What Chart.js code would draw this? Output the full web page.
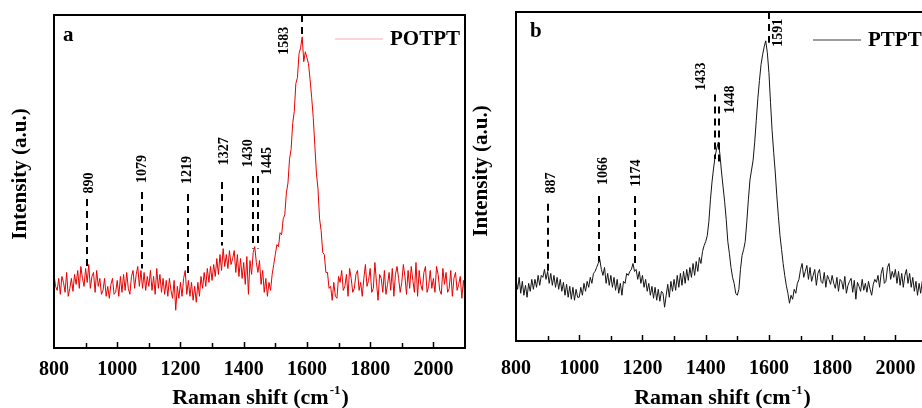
<!DOCTYPE html>
<html>
<head>
<meta charset="utf-8">
<script src="https://cdn.jsdelivr.net/npm/chart.js@4.4.0/dist/chart.umd.min.js"></script>
<style>
html, body { margin: 0; padding: 0; background: #fff; overflow: hidden; }
#wrap { position: relative; width: 922px; height: 408px; overflow: hidden; }
#chartA { position: absolute; left: 0; top: 0; }
#chartB { position: absolute; left: 462px; top: 0; }
</style>
</head>
<body>
<div id="wrap">
  <canvas id="chartA" width="470" height="408"></canvas>
  <canvas id="chartB" width="470" height="408"></canvas>
</div>
<script>
// Raman shift grid, cm-1 (800 .. 2100, every 5)
var shiftStart = 800, shiftStep = 5;

// a: POTPT spectrum (a.u.)
var potptIntensity = [
  74, 62, 58, 70, 54, 72, 66, 56, 76, 52, 60, 70, 57, 74, 64, 78, 60, 82, 70, 62,
  80, 66, 84, 60, 72, 76, 56, 78, 62, 70, 54, 58, 70, 52, 62, 50, 64, 70, 54, 56,
  68, 52, 72, 56, 74, 58, 76, 60, 54, 72, 78, 60, 74, 82, 62, 78, 60, 76, 58, 72,
  62, 78, 58, 72, 54, 80, 60, 74, 56, 70, 54, 68, 52, 70, 58, 50, 68, 38, 62, 50,
  66, 52, 70, 78, 54, 68, 52, 66, 48, 62, 46, 66, 52, 72, 60, 76, 62, 80, 66, 82,
  68, 84, 72, 90, 74, 94, 78, 100, 82, 94, 80, 98, 84, 90, 98, 76, 94, 72, 90, 70,
  86, 64, 92, 54, 88, 74, 96, 102, 86, 76, 88, 64, 78, 56, 70, 52, 66, 58, 74, 84,
  94, 104, 102, 116, 114, 130, 134, 156, 166, 190, 200, 226, 238, 266, 272, 296, 302, 313, 288, 298,
  292, 286, 270, 252, 232, 204, 176, 160, 130, 118, 96, 94, 76, 76, 60, 62, 48, 66, 52, 50,
  72, 66, 78, 58, 62, 74, 52, 80, 70, 56, 60, 74, 78, 58, 66, 52, 70, 84, 62, 68,
  80, 56, 60, 86, 66, 48, 74, 70, 56, 78, 54, 64, 76, 58, 80, 52, 74, 82, 70, 56,
  66, 84, 72, 54, 78, 60, 82, 68, 56, 86, 52, 78, 64, 58, 76, 82, 56, 62, 78, 60,
  70, 56, 82, 74, 58, 54, 80, 64, 76, 56, 60, 78, 52, 70, 76, 58, 64, 72, 50, 68,
  52
];

// b: PTPT spectrum (a.u.)
var ptptIntensity = [
  62, 52, 64, 48, 60, 46, 56, 44, 58, 50, 62, 52, 62, 54, 66, 56, 66, 64, 72, 62,
  70, 58, 68, 56, 66, 54, 64, 52, 62, 50, 59, 46, 57, 44, 55, 42, 54, 41, 52, 44,
  44, 54, 46, 58, 50, 60, 54, 64, 58, 68, 70, 74, 78, 82, 72, 66, 74, 58, 68, 56,
  66, 54, 64, 51, 62, 48, 58, 46, 60, 58, 68, 66, 70, 72, 78, 70, 72, 62, 70, 58,
  66, 54, 62, 50, 58, 46, 55, 43, 54, 41, 52, 40, 50, 48, 34, 46, 57, 44, 60, 50,
  62, 51, 66, 54, 68, 56, 70, 58, 72, 61, 74, 64, 78, 66, 80, 70, 84, 78, 90, 96,
  100, 106, 120, 142, 160, 174, 186, 194, 200, 188, 170, 155, 140, 122, 100, 88, 74, 64, 58, 48,
  46, 52, 72, 86, 92, 100, 120, 142, 162, 172, 182, 200, 222, 244, 262, 278, 288, 296, 302, 290,
  270, 240, 212, 190, 170, 146, 125, 106, 92, 78, 66, 56, 48, 38, 46, 42, 52, 48, 58, 62,
  72, 78, 64, 70, 76, 62, 74, 60, 66, 72, 56, 68, 72, 60, 58, 69, 54, 66, 62, 57,
  66, 58, 53, 64, 50, 62, 60, 52, 65, 48, 56, 60, 63, 49, 61, 42, 59, 55, 50, 62,
  51, 58, 49, 60, 52, 46, 57, 62, 59, 66, 54, 68, 74, 58, 60, 74, 78, 62, 70, 64,
  72, 58, 70, 56, 68, 54, 66, 72, 58, 68, 54, 64, 50, 60, 46, 58, 48, 60, 50, 62,
  52
];

// peak marks: where the dashed line stands, its label, line ends and label centre (a.u.)
var potptPeakAt = [904, 1078, 1223, 1330, 1428, 1444, 1583];
var potptPeakText = ['890', '1079', '1219', '1327', '1430', '1445', '1583'];
var potptLineTop = [150, 157, 155, 167, 173, 173, 335];
var potptLineBottom = [82, 80, 73, 103, 100, 100, 313];
var potptLabelY = [166, 180, 179, 198, 196, 188, 309];

var ptptPeakAt = [900, 1062, 1177, 1431, 1441, 1599];
var ptptPeakText = ['887', '1066', '1174', '1433', '1448', '1591'];
var ptptLineTop = [138, 146, 146, 248, 236, 331];
var ptptLineBottom = [70, 80, 76, 183, 180, 300];
var ptptLabelY = [159, 171, 169, 266, 243, 310];

function toPoints(values) {
  return values.map(function(v, i){ return { x: shiftStart + i * shiftStep, y: v }; });
}

var serif = '"Liberation Serif", "Times New Roman", serif';

function decor(cfg) {
  return {
    id: 'decor',
    afterDatasetsDraw: function(chart) {
      var ctx = chart.ctx, a = chart.chartArea;
      var xs = chart.scales.x, ys = chart.scales.y;
      ctx.save();
      // dashed peak lines
      ctx.strokeStyle = '#000';
      ctx.lineWidth = 2;
      ctx.setLineDash([7, 5]);
      cfg.peakAt.forEach(function(p, i){
        var x = Math.round(xs.getPixelForValue(p));
        ctx.beginPath();
        ctx.moveTo(x, ys.getPixelForValue(cfg.lineTop[i]));
        ctx.lineTo(x, ys.getPixelForValue(cfg.lineBottom[i]));
        ctx.stroke();
      });
      ctx.setLineDash([]);
      // peak labels, rotated
      ctx.fillStyle = '#000';
      ctx.font = 'bold 14px ' + serif;
      ctx.textAlign = 'center';
      ctx.textBaseline = 'middle';
      cfg.peakText.forEach(function(t, i){
        ctx.save();
        ctx.translate(xs.getPixelForValue(cfg.peakAt[i]) + cfg.labelDx[i], ys.getPixelForValue(cfg.labelY[i]));
        ctx.rotate(-Math.PI / 2);
        ctx.fillText(t, 0, 0);
        ctx.restore();
      });
      // frame
      ctx.lineWidth = 2;
      ctx.strokeRect(a.left, a.top, a.right - a.left, a.bottom - a.top);
      // inward ticks on the bottom axis
      ctx.lineWidth = 1.5;
      for (var v = 900; v < 2100; v += 100) {
        var tx = Math.round(xs.getPixelForValue(v)) + 0.5;
        var len = (v % 200 === 0) ? 6 : 5;
        ctx.beginPath();
        ctx.moveTo(tx, a.bottom);
        ctx.lineTo(tx, a.bottom - len);
        ctx.stroke();
      }
      // panel letter
      ctx.textAlign = 'left';
      ctx.textBaseline = 'middle';
      ctx.font = 'bold 21px ' + serif;
      ctx.fillText(cfg.letter, a.left + cfg.letterDx, cfg.letterY);
      // legend
      ctx.strokeStyle = cfg.legendLine;
      ctx.lineWidth = 1.2;
      ctx.beginPath();
      ctx.moveTo(a.left + cfg.legendX, cfg.legendY);
      ctx.lineTo(a.left + cfg.legendX + 48, cfg.legendY);
      ctx.stroke();
      ctx.fillStyle = '#000';
      ctx.font = 'bold 21px ' + serif;
      ctx.fillText(cfg.name, a.left + cfg.legendX + 55, cfg.legendY + 1);
      // y title
      ctx.save();
      ctx.translate(cfg.yTitleX, cfg.yTitleY);
      ctx.rotate(-Math.PI / 2);
      ctx.textAlign = 'center';
      ctx.font = 'bold 21px ' + serif;
      ctx.fillText('Intensity (a.u.)', 0, 0);
      ctx.restore();
      // x title with superscript
      var main = 'Raman shift (cm', sup = '-1', close = ')';
      ctx.textBaseline = 'alphabetic';
      ctx.font = 'bold 22px ' + serif;
      var w1 = ctx.measureText(main).width, w3 = ctx.measureText(close).width;
      ctx.font = 'bold 13px ' + serif;
      var w2 = ctx.measureText(sup).width;
      var sx = (a.left + a.right) / 2 - (w1 + w2 + w3) / 2;
      ctx.font = 'bold 22px ' + serif;
      ctx.fillText(main, sx, 404);
      ctx.font = 'bold 13px ' + serif;
      ctx.fillText(sup, sx + w1 + 1, 394);
      ctx.font = 'bold 22px ' + serif;
      ctx.fillText(close, sx + w1 + w2 + 2, 404);
      ctx.restore();
    }
  };
}

function makeChart(id, values, color, yMax, pad, tickPad, cfg) {
  var ctx = document.getElementById(id).getContext('2d');
  return new Chart(ctx, {
    type: 'line',
    data: {
      datasets: [{
        data: toPoints(values),
        borderColor: color,
        borderWidth: 1,
        pointRadius: 0,
        tension: 0,
        fill: false
      }]
    },
    options: {
      responsive: false,
      animation: false,
      devicePixelRatio: 1,
      layout: { padding: pad },
      plugins: { legend: { display: false }, tooltip: { enabled: false } },
      scales: {
        x: {
          type: 'linear',
          min: 800,
          max: 2100,
          grid: { display: false, drawTicks: false },
          border: { display: false },
          ticks: {
            stepSize: 200,
            includeBounds: false,
            padding: tickPad,
            color: '#000',
            font: { family: serif, size: 20, weight: 'bold' },
            maxRotation: 0,
            autoSkip: false,
            callback: function(value){ return String(value); }
          }
        },
        y: {
          display: false,
          min: 0,
          max: yMax
        }
      }
    },
    plugins: [decor(cfg)]
  });
}

makeChart('chartA', potptIntensity, 'rgb(232,0,0)', 335,
  { left: 54, right: 5, top: 15, bottom: 16 }, 10, {
    peakAt: potptPeakAt, peakText: potptPeakText,
    lineTop: potptLineTop, lineBottom: potptLineBottom, labelY: potptLabelY,
    labelDx: [3, 0, 0, 3, -4, 10, -17],
    letter: 'a', letterDx: 9, letterY: 36,
    name: 'POTPT', legendLine: 'rgb(240,175,175)', legendX: 281, legendY: 39,
    yTitleX: 21, yTitleY: 174
  });

makeChart('chartB', ptptIntensity, 'rgb(20,20,20)', 331,
  { left: 54, right: 5, top: 12, bottom: 11 }, 16, {
    peakAt: ptptPeakAt, peakText: ptptPeakText,
    lineTop: ptptLineTop, lineBottom: ptptLineBottom, labelY: ptptLabelY,
    labelDx: [4, 5, 1, -14, 12, 10],
    letter: 'b', letterDx: 14, letterY: 32,
    name: 'PTPT', legendLine: 'rgb(60,60,60)', legendX: 297, legendY: 40,
    yTitleX: 20, yTitleY: 171
  });
</script>
</body>
</html>
